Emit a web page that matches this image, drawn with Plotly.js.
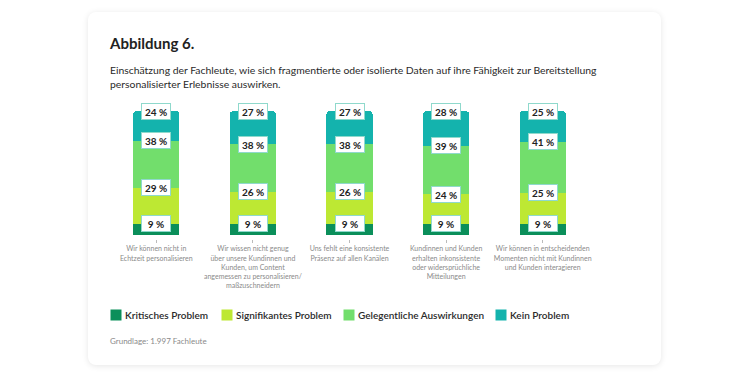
<!DOCTYPE html>
<html><head><meta charset="utf-8">
<script src="https://cdn.plot.ly/plotly-3.0.1.min.js"></script>
<style>
html,body{margin:0;padding:0;background:#fff;width:750px;height:379px;overflow:hidden;font-family:Lato,"Open Sans",sans-serif;}
#card{position:absolute;left:88px;top:12px;width:573px;height:353px;background:#fff;border-radius:8px;box-shadow:0 1px 6px rgba(0,0,0,0.10);}
#t1{position:absolute;left:110px;top:34px;font-size:15px;font-weight:700;color:#222;}
#t2{position:absolute;left:110px;top:63px;font-size:10.4px;line-height:14px;color:#2a2a2a;}
#t3{position:absolute;left:110px;top:336px;font-size:8px;color:#8a8a8a;}
#chart{position:absolute;left:0;top:0;width:750px;height:379px;}
</style></head>
<body>
<div id="card"></div>
<div id="t1">Abbildung 6.</div>
<div id="t2">Einschätzung der Fachleute, wie sich fragmentierte oder isolierte Daten auf ihre Fähigkeit zur Bereitstellung<br>personalisierter Erlebnisse auswirken.</div>
<div id="t3">Grundlage: 1.997 Fachleute</div>
<div id="chart"></div>
<script>
const categories = [
  "Wir können nicht in<br>Echtzeit personalisieren",
  "Wir wissen nicht genug<br>über unsere Kundinnen und<br>Kunden, um Content<br>angemessen zu personalisieren/<br>maßzuschneidern",
  "Uns fehlt eine konsistente<br>Präsenz auf allen Kanälen",
  "Kundinnen und Kunden<br>erhalten inkonsistente<br>oder widersprüchliche<br>Mitteilungen",
  "Wir können in entscheidenden<br>Momenten nicht mit Kundinnen<br>und Kunden interagieren"
];
const seriesNames = ["Kritisches Problem","Signifikantes Problem","Gelegentliche Auswirkungen","Kein Problem"];
const kritisch = [9, 9, 9, 9, 9];
const signifikant = [29, 26, 26, 24, 25];
const gelegentlich = [38, 38, 38, 39, 41];
const keinProblem = [24, 27, 27, 28, 25];
const colors = ["#0b8f5a","#bde833","#72de6c","#14b3ad"];

const series = [kritisch, signifikant, gelegentlich, keinProblem];
const xIdx = categories.map((c,i)=>i);

const traces = series.map((vals,k)=>({
  type:'bar', x:xIdx, y:vals, name:seriesNames[k],
  marker:{color:colors[k], line:{width:0}},
  hoverinfo:'skip', showlegend:false
}));

const L=108, R=159, T=111, B=140;
const W=750, H=379;
const pw=W-L-R, ph=H-T-B;
const px=(p)=>(p-L)/pw, py=(p)=>(H-B-p)/ph;

const annotations=[];
xIdx.forEach(i=>{
  let cum=0;
  series.forEach((vals,k)=>{
    cum+=vals[i];
    annotations.push({x:i,y:cum,xref:'x',yref:'y',text:vals[i]+' %',showarrow:false,
      font:{family:'Lato, sans-serif',size:10,color:'#222',weight:700},
      bgcolor:'#ffffff',bordercolor:'#8fd9cc',borderwidth:1,borderpad:1.5,
      xanchor:'center',yanchor:'middle',width:25,height:12});
  });
});
const legX=[110,221,343,495];
seriesNames.forEach((n,k)=>{
  annotations.push({xref:'paper',yref:'paper',x:px(legX[k]),y:py(315),text:' ',showarrow:false,
    bgcolor:colors[k],width:10,height:10,borderpad:0,xanchor:'left',yanchor:'middle'});
  annotations.push({xref:'paper',yref:'paper',x:px(legX[k]+14),y:py(315),text:n,showarrow:false,
    font:{family:'Lato, sans-serif',size:10,color:'#2a2a2a',weight:600},xanchor:'left',yanchor:'middle',borderpad:0});
});

const layout={
  width:W,height:H,margin:{l:L,r:R,t:T,b:B},
  paper_bgcolor:'rgba(0,0,0,0)',plot_bgcolor:'rgba(0,0,0,0)',
  barmode:'stack',bargap:0.52,barcornerradius:4,
  showlegend:false,
  xaxis:{tickmode:'array',tickvals:xIdx,ticktext:categories,range:[-0.5,4.5],
    showgrid:false,zeroline:false,showline:false,ticks:'outside',ticklen:3,tickwidth:1,tickcolor:'#bbbbbb',
    tickfont:{family:'Lato, sans-serif',size:7,color:'#8a8a8a'},fixedrange:true},
  yaxis:{range:[-3.3,100],visible:false,fixedrange:true},
  annotations:annotations,
  font:{family:'Lato, sans-serif'}
};
Plotly.newPlot('chart',traces,layout,{displayModeBar:false,staticPlot:true});
</script>
</body></html>
